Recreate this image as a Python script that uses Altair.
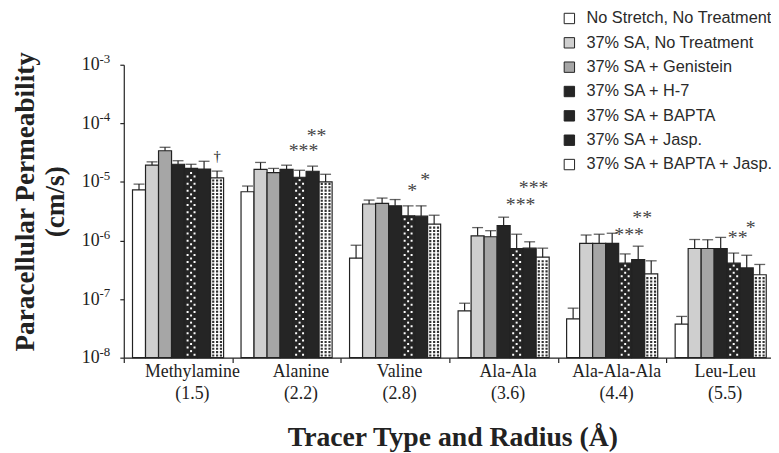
import math
import altair as alt
import pandas as pd

# ---------------- data ----------------
groups = ["Methylamine|(1.5)", "Alanine|(2.2)", "Valine|(2.8)",
          "Ala-Ala|(3.6)", "Ala-Ala-Ala|(4.4)", "Leu-Leu|(5.5)"]
series = ["No Stretch, No Treatment", "37% SA, No Treatment", "37% SA + Genistein",
          "37% SA + H-7", "37% SA + BAPTA", "37% SA + Jasp.", "37% SA + BAPTA + Jasp."]
fills = ["#ffffff", "#cfcfcf", "#a6a6a6", "#252525", "#252525", "#252525", "#ffffff"]

no_stretch     = [7.3e-6, 6.8e-6, 5.0e-7, 6.3e-8, 4.6e-8, 3.75e-8]
no_stretch_err = [9.2e-6, 8.5e-6, 8.3e-7, 8.5e-8, 7.0e-8, 5.06e-8]
sa             = [1.94e-5, 1.64e-5, 4.2e-6, 1.2e-6, 0.89e-6, 0.73e-6]
sa_err         = [2.2e-5, 2.15e-5, 4.9e-6, 1.66e-6, 1.24e-6, 1.04e-6]
genistein      = [3.4e-5, 1.44e-5, 4.3e-6, 1.16e-6, 0.89e-6, 0.73e-6]
genistein_err  = [3.9e-5, 1.7e-5, 5.3e-6, 1.47e-6, 1.28e-6, 1.03e-6]
h7             = [2.0e-5, 1.64e-5, 3.9e-6, 1.8e-6, 0.89e-6, 0.73e-6]
h7_err         = [2.3e-5, 1.93e-5, 5.0e-6, 2.5e-6, 1.33e-6, 1.13e-6]
bapta          = [1.7e-5, 1.2e-5, 2.64e-6, 0.73e-6, 0.41e-6, 0.41e-6]
bapta_err      = [2.0e-5, 1.58e-5, 3.9e-6, 1.28e-6, 0.59e-6, 0.61e-6]
jasp           = [1.66e-5, 1.52e-5, 2.6e-6, 0.74e-6, 0.47e-6, 0.34e-6]
jasp_err       = [2.25e-5, 1.86e-5, 3.9e-6, 0.95e-6, 0.8e-6, 0.56e-6]
bapta_jasp     = [1.17e-5, 1.0e-5, 1.9e-6, 0.52e-6, 0.27e-6, 0.26e-6]
bapta_jasp_err = [1.53e-5, 1.35e-5, 2.7e-6, 0.74e-6, 0.45e-6, 0.39e-6]

ann_group  = ["Methylamine|(1.5)", "Alanine|(2.2)", "Alanine|(2.2)", "Valine|(2.8)", "Valine|(2.8)",
              "Ala-Ala|(3.6)", "Ala-Ala|(3.6)", "Ala-Ala-Ala|(4.4)", "Ala-Ala-Ala|(4.4)",
              "Leu-Leu|(5.5)", "Leu-Leu|(5.5)"]
ann_series = ["37% SA + BAPTA + Jasp.", "37% SA + BAPTA", "37% SA + Jasp.", "37% SA + BAPTA",
              "37% SA + Jasp.", "37% SA + BAPTA", "37% SA + Jasp.", "37% SA + BAPTA",
              "37% SA + Jasp.", "37% SA + BAPTA", "37% SA + Jasp."]
ann_text   = ["\u2020", "***", "**", "*", "*", "***", "***", "***", "**", "**", "*"]
ann_y      = [2.8e-5, 3.8e-5, 6.8e-5, 7.7e-6, 1.23e-5, 4.5e-6, 8.7e-6, 1.4e-6, 2.7e-6, 1.24e-6, 1.84e-6]

y_ticks = [1e-8, 1e-7, 1e-6, 1e-5, 1e-4, 1e-3]
y_tick_exponents = ["-8", "-7", "-6", "-5", "-4", "-3"]

# ---------------- tables ----------------
means = [no_stretch, sa, genistein, h7, bapta, jasp, bapta_jasp]
errs = [no_stretch_err, sa_err, genistein_err, h7_err, bapta_err, jasp_err, bapta_jasp_err]
rows = []
for s, m, e in zip(series, means, errs):
    for g, v, u in zip(groups, m, e):
        rows.append({"group": g, "series": s, "value": v, "err": u})
df = pd.DataFrame(rows)

ann = pd.DataFrame({"group": ann_group, "series": ann_series, "text": ann_text, "y": ann_y})
exps = pd.DataFrame({"tick": y_ticks, "exp": y_tick_exponents})

# fill texture (dot patterns) for the BAPTA / BAPTA + Jasp. bars
PX_PER_DECADE = 296 / 5
tex = []
for gi, g in enumerate(groups):
    top = (math.log10(bapta[gi]) + 8) * PX_PER_DECADE
    h, k = 3.0, 0
    while h < top - 2:
        tex.append({"group": g, "series": series[4], "yv": 10 ** (-8 + h / PX_PER_DECADE),
                    "kind": "A" if k % 2 == 0 else "B"})
        h += 3.6
        k += 1
    top = (math.log10(bapta_jasp[gi]) + 8) * PX_PER_DECADE
    h = 2.2
    while h < top - 1.5:
        tex.append({"group": g, "series": series[6], "yv": 10 ** (-8 + h / PX_PER_DECADE), "kind": "J"})
        h += 3.4
tex = pd.DataFrame(tex)

# ---------------- encodings ----------------
x_enc = alt.X("group:N",
              scale=alt.Scale(domain=groups, range=[0, 658], paddingInner=0, paddingOuter=0),
              axis=alt.Axis(title="Tracer Type and Radius (\u00c5)",
                            labelExpr="isValid(datum.value) ? split(datum.value, '|') : ''",
                            labelAngle=0, labelBaseline="alphabetic", labelPadding=14,
                            labelLineHeight=22,
                            labelOffset={"condition": {"test": "datum.value == 'Methylamine|(1.5)' || datum.value == 'Alanine|(2.2)'",
                                                       "value": 14},
                                         "value": 4},
                            labelFont="Liberation Serif", labelFontSize=18, labelColor="#222",
                            tickBand="extent", tickSize=5, tickColor="#222", tickWidth=1.2,
                            domainColor="#222", domainWidth=1.2,
                            titleFont="Liberation Serif", titleFontSize=28, titleFontWeight="bold",
                            titleColor="#222", titleBaseline="alphabetic",
                            titleX=332, titleY=89, titleAlign="center"))
xo_enc = alt.XOffset("series:N", scale=alt.Scale(domain=series, paddingInner=0, paddingOuter=0.67))
y_scale = alt.Scale(type="log", domain=[1e-8, 1e-3], nice=False, clamp=True)
y_axis = alt.Axis(values=y_ticks, labelExpr="'10'", grid=False,
                  labelFont="Liberation Serif", labelFontSize=18, labelColor="#222", labelPadding=21,
                  tickSize=4, tickColor="#222", tickWidth=1.2, domainColor="#222", domainWidth=1.2,
                  title=["Paracellular Permeability", "(cm/s)"],
                  titleFont="Liberation Serif", titleFontSize=27.5, titleFontWeight="bold",
                  titleColor="#222", titleLineHeight=30, titleBaseline="alphabetic",
                  titleAngle=270, titleX=-91, titleY=138, titleAlign="center")

bars = alt.Chart(df).mark_bar(stroke="#222", strokeWidth=1.2).encode(
    x=x_enc, xOffset=xo_enc,
    y=alt.Y("value:Q", scale=y_scale, axis=y_axis),
    fill=alt.Fill("series:N", scale=alt.Scale(domain=series, range=fills),
                  legend=alt.Legend(title=None, orient="none", legendX=442, legendY=-55,
                                    symbolType="square", symbolSize=110,
                                    symbolStrokeColor="#222", symbolStrokeWidth=1,
                                    labelFont="Liberation Sans", labelFontSize=16.5,
                                    labelColor="#2a2a2a", labelLimit=300, labelOffset=9,
                                    rowPadding=7.6, padding=0)),
)

X_SHARED = alt.X("group:N", scale=alt.Scale(domain=groups))
XO_SHARED = alt.XOffset("series:N", scale=alt.Scale(domain=series))


def tex_layer(kind, shape, color):
    return alt.Chart(tex).transform_filter(alt.datum.kind == kind).mark_point(
        shape=shape, size=100, filled=True, fill=color, opacity=1, strokeWidth=0
    ).encode(x=X_SHARED, xOffset=XO_SHARED, y=alt.Y("yv:Q", scale=y_scale))


dotsA = tex_layer("A", "M-0.9,-0.2H-0.5V0.2H-0.9Z M0.5,-0.2H0.9V0.2H0.5Z", "#ffffff")
dotsB = tex_layer("B", "M-0.2,-0.2H0.2V0.2H-0.2Z", "#ffffff")
dotsJ = tex_layer("J", "M-1,-0.22H-0.56V0.22H-1Z M-0.22,-0.22H0.22V0.22H-0.22Z M0.56,-0.22H1V0.22H0.56Z",
                  "#333333")

stems = alt.Chart(df).mark_rule(color="#222", strokeWidth=1.2).encode(
    x=X_SHARED, xOffset=XO_SHARED, y=alt.Y("value:Q", scale=y_scale), y2="err:Q")
caps = alt.Chart(df).mark_tick(orient="horizontal", size=11, thickness=1.3, color="#222").encode(
    x=X_SHARED, xOffset=XO_SHARED, y=alt.Y("err:Q", scale=y_scale))

stars = alt.Chart(ann).transform_filter(alt.datum.text != "\u2020").mark_text(
    font="Liberation Serif", fontSize=20, color="#444", baseline="alphabetic", dx=4, dy=9
).encode(x=X_SHARED, xOffset=XO_SHARED, y=alt.Y("y:Q", scale=y_scale), text="text:N")
dagger = alt.Chart(ann).transform_filter(alt.datum.text == "\u2020").mark_text(
    font="Liberation Serif", fontSize=15, color="#222", baseline="middle"
).encode(x=X_SHARED, xOffset=XO_SHARED, y=alt.Y("y:Q", scale=y_scale), text="text:N")

# superscript exponents of the y tick labels ("10" comes from the axis)
exponents = alt.Chart(exps).mark_text(
    font="Liberation Serif", fontSize=13, color="#222", align="left", baseline="middle", dy=-6
).encode(x=alt.value(-24.5), y=alt.Y("tick:Q", scale=y_scale), text="exp:N")

chart = alt.layer(bars, dotsA, dotsB, dotsJ, stems, caps, stars, dagger, exponents).properties(
    width=654, height=296,
    autosize=alt.AutoSizeParams(type="none"),
    padding={"left": 117, "top": 55, "right": 0, "bottom": 95},
    background="white",
).configure_view(stroke=None)

chart.save("out.html", embed_options={"renderer": "svg", "actions": False})
